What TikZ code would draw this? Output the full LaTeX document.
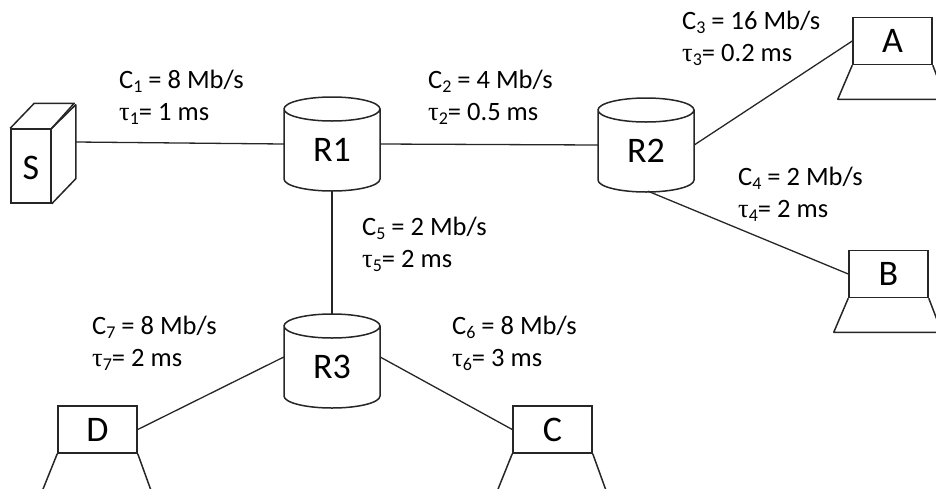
\documentclass[tikz,border=0pt]{standalone}
\usepackage{fontspec}
\usetikzlibrary{calc}
\setmainfont{Carlito}
\newfontfamily\taufont{Liberation Serif}
\tikzset{
  x=1pt,y=-1pt,
  wire/.style={draw=black!85,line width=1.3pt},
  shapeline/.style={draw=black!85,line width=1.5pt,line join=round},
  routerbox/.style={inner sep=0,minimum width=96pt,minimum height=94pt,font=\fontsize{36}{36}\selectfont},
  screenbox/.style={draw=black!85,line width=1.5pt,fill=white,inner sep=0,minimum width=79pt,minimum height=47pt,font=\fontsize{36}{36}\selectfont},
  lbl/.style={inner sep=0,anchor=base west,font=\fontsize{26.5}{26.5}\selectfont},
}
\newcommand{\subn}[1]{\raisebox{-4.5pt}{\fontsize{18}{18}\selectfont #1}}
\newcommand{\router}[4]{%
  \draw[shapeline,fill=white] (#2-48,#3-35) arc[start angle=180,end angle=0,x radius=48,y radius=12]
     -- (#2+48,#3+35) arc[start angle=0,end angle=180,x radius=48,y radius=12] -- cycle;
  \draw[shapeline] (#2-48,#3-35) arc[start angle=180,end angle=360,x radius=48,y radius=12];
  \node[routerbox] (#1) at (#2,#3) {\raisebox{-6pt}[\height][\depth]{#4}};
}
\newcommand{\laptop}[5]{%
  \node[screenbox] (#1) at (#2,#3) {#4};
  \draw[shapeline] (#1.south west) -- ++(-14.5,#5) -- ++(108,0) -- (#1.south east);
}
\newcommand{\linklbl}[7]{%
  \node[lbl] (#1c) at (#2,#3) {C\subn{#6} = #5};
  \node[lbl] (#1t) at (#2,#4) {{\taufont τ}\subn{#6}= #7};
}
\begin{document}
\begin{tikzpicture}
\useasboundingbox (0,0) rectangle (936,488);
% source
\node[draw=black!85,line width=1.5pt,inner sep=0,minimum width=40pt,minimum height=74pt,font=\fontsize{36}{36}\selectfont] (S) at (31,166) {\raisebox{-2pt}[\height][\depth]{S}};
\draw[shapeline] (S.north west) -- ++(24,-25) -- ++(40,0) -- (S.north east);
\draw[shapeline] (S.south east) -- ++(24,-25) -- ++(0,-74) -- (S.north east);
\coordinate (Sr) at (76,142);
% routers
\router{R1}{332}{144}{R1}
\router{R2}{646}{145}{R2}
\router{R3}{332}{361}{R3}
% hosts
\laptop{A}{892.5}{41}{A}{34}
\laptop{B}{888.5}{274}{B}{34}
\laptop{C}{552.5}{429.5}{C}{36}
\laptop{D}{97.5}{429.5}{D}{36}
% links
\draw[wire] (Sr) -- (R1.west);
\draw[wire] (R1.east) -- (R2.west);
\draw[wire] (R1.south) -- (R3.north);
\draw[wire] (R2.east) -- (A.west);
\draw[wire] ($(R2.south)+(2,-1)$) -- (B.west);
\draw[wire] ($(R3.west)+(0,-4)$) -- (D.east);
\draw[wire] ($(R3.east)+(0,-4)$) -- (C.west);
% labels
\linklbl{a}{119}{88}{120}{8 Mb/s}{1}{1 ms}
\linklbl{b}{428}{88}{120}{4 Mb/s}{2}{0.5 ms}
\linklbl{c}{682}{29}{61}{16 Mb/s}{3}{0.2 ms}
\linklbl{d}{738}{185}{217}{2 Mb/s}{4}{2 ms}
\linklbl{e}{362}{235}{267}{2 Mb/s}{5}{2 ms}
\linklbl{f}{452}{334}{366}{8 Mb/s}{6}{3 ms}
\linklbl{g}{92}{334}{366}{8 Mb/s}{7}{2 ms}
\end{tikzpicture}
\end{document}
